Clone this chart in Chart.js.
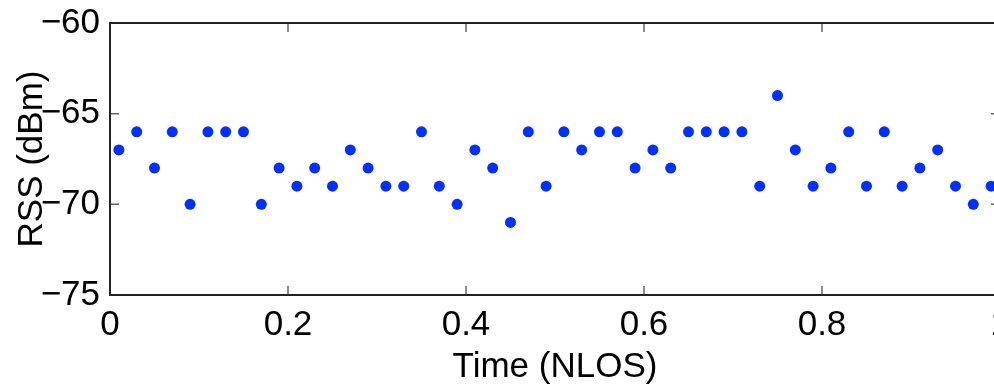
<!DOCTYPE html>
<html>
<head>
<meta charset="utf-8">
<script src="https://cdn.jsdelivr.net/npm/chart.js@4"></script>
<style>
  html, body { margin: 0; padding: 0; background: #fff; overflow: hidden; }
  #wrap { width: 1040px; height: 388px; }
</style>
</head>
<body>
<div id="wrap"><canvas id="myChart" width="1040" height="388"></canvas></div>
<script>
// sample times (NLOS run)
var times = [0.01, 0.03, 0.05, 0.07, 0.09, 0.11, 0.13, 0.15, 0.17, 0.19,
             0.21, 0.23, 0.25, 0.27, 0.29, 0.31, 0.33, 0.35, 0.37, 0.39,
             0.41, 0.43, 0.45, 0.47, 0.49, 0.51, 0.53, 0.55, 0.57, 0.59,
             0.61, 0.63, 0.65, 0.67, 0.69, 0.71, 0.73, 0.75, 0.77, 0.79,
             0.81, 0.83, 0.85, 0.87, 0.89, 0.91, 0.93, 0.95, 0.97, 0.99];
// RSS readings in dBm
var rss = [-67, -66, -68, -66, -70, -66, -66, -66, -70, -68,
           -69, -68, -69, -67, -68, -69, -69, -66, -69, -70,
           -67, -68, -71, -66, -69, -66, -67, -66, -66, -68,
           -67, -68, -66, -66, -66, -66, -69, -64, -67, -69,
           -68, -66, -69, -66, -69, -68, -67, -69, -70, -69];

var xTicks = [0, 0.2, 0.4, 0.6, 0.8, 1];
var yTicks = [-75, -70, -65, -60];

var points = [];
for (var i = 0; i < times.length; i++) {
  points.push({ x: times[i], y: rss[i] });
}

var fontFamily = "'Liberation Sans', Arial, Helvetica, sans-serif";

// matlab style box with inward ticks on all four sides
var boxTicks = {
  id: "boxTicks",
  afterDraw: function (chart) {
    var ctx = chart.ctx, a = chart.chartArea;
    var xs = chart.scales.x, ys = chart.scales.y;
    var len = 9;
    ctx.save();
    ctx.strokeStyle = "#666";
    ctx.lineWidth = 1.5;
    ctx.beginPath();
    xTicks.forEach(function (v) {
      var px = xs.getPixelForValue(v);
      ctx.moveTo(px, a.bottom); ctx.lineTo(px, a.bottom - len);
      ctx.moveTo(px, a.top); ctx.lineTo(px, a.top + len);
    });
    yTicks.forEach(function (v) {
      var py = ys.getPixelForValue(v);
      ctx.moveTo(a.left, py); ctx.lineTo(a.left + len, py);
      ctx.moveTo(a.right, py); ctx.lineTo(a.right - len, py);
    });
    ctx.stroke();
    ctx.strokeStyle = "#222";
    ctx.lineWidth = 2;
    ctx.strokeRect(a.left, a.top, a.right - a.left, a.bottom - a.top);
    ctx.restore();
  }
};

new Chart("myChart", {
  type: "scatter",
  data: {
    datasets: [{
      data: points,
      backgroundColor: "#0030ff",
      borderColor: "#0030ff",
      pointRadius: 5.5,
      pointHoverRadius: 5.5,
      borderWidth: 0
    }]
  },
  options: {
    responsive: false,
    animation: false,
    layout: { padding: { top: 23, right: 40, left: 0, bottom: 0 } },
    plugins: { legend: { display: false }, tooltip: { enabled: false } },
    scales: {
      x: {
        type: "linear",
        min: 0,
        max: 1,
        grid: { display: false, drawTicks: false },
        border: { display: false },
        afterBuildTicks: function (s) { s.ticks = xTicks.map(function (v) { return { value: v }; }); },
        afterFit: function (s) { s.height = 93; s.paddingLeft = 0; s.paddingRight = 0; },
        ticks: {
          padding: 9,
          color: "#000",
          maxRotation: 0,
          autoSkip: false,
          font: { family: fontFamily, size: 35 },
          callback: function (v) { return String(v); }
        },
        title: {
          display: true,
          text: "Time (NLOS)",
          color: "#000",
          font: { family: fontFamily, size: 35, lineHeight: 1 },
          padding: { top: 0, bottom: 3 }
        }
      },
      y: {
        type: "linear",
        min: -75,
        max: -60,
        grid: { display: false, drawTicks: false },
        border: { display: false },
        afterBuildTicks: function (s) { s.ticks = yTicks.map(function (v) { return { value: v }; }); },
        afterFit: function (s) { s.width = 110; s.paddingTop = 0; s.paddingBottom = 0; },
        ticks: {
          padding: 10,
          color: "#000",
          autoSkip: false,
          font: { family: fontFamily, size: 35 },
          callback: function (v) { return String(v).replace("-", "\u2212"); }
        },
        title: {
          display: true,
          text: "RSS (dBm)",
          color: "#000",
          font: { family: fontFamily, size: 35, lineHeight: 1 },
          padding: { top: 15, bottom: 0 }
        }
      }
    }
  },
  plugins: [boxTicks]
});
</script>
</body>
</html>
